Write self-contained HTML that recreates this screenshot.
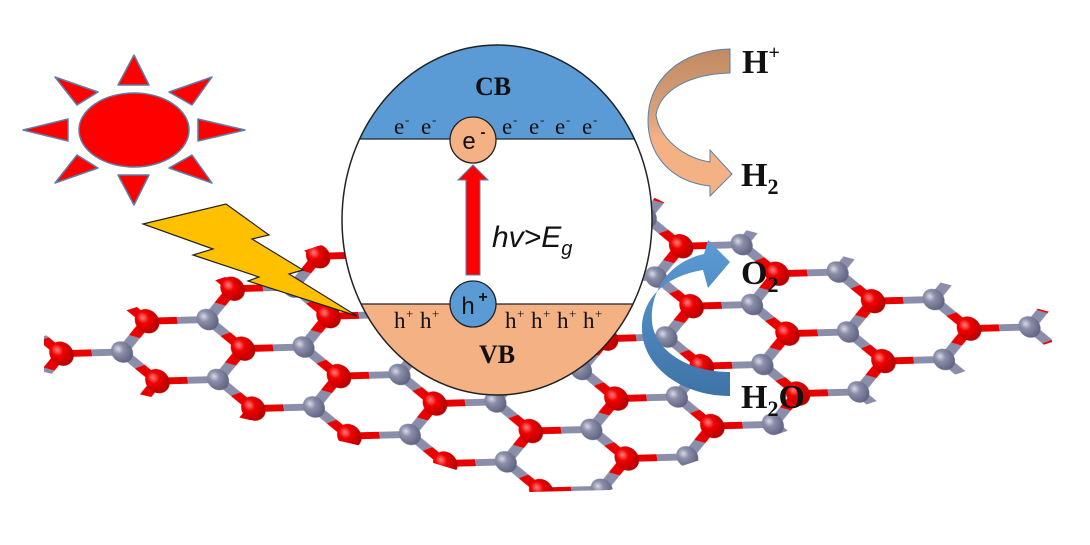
<!DOCTYPE html>
<html><head><meta charset="utf-8"><style>
html,body{margin:0;padding:0;background:#fff;}
svg{display:block;}
</style></head><body>
<svg width="1090" height="545" viewBox="0 0 1090 545" xmlns="http://www.w3.org/2000/svg">
<defs>
  <radialGradient id="gO" cx="0.35" cy="0.35" r="0.7">
    <stop offset="0" stop-color="#ff8080"/><stop offset="0.35" stop-color="#f00000"/><stop offset="1" stop-color="#b00000"/>
  </radialGradient>
  <radialGradient id="gC" cx="0.35" cy="0.35" r="0.7">
    <stop offset="0" stop-color="#d8dae8"/><stop offset="0.35" stop-color="#8a8ea8"/><stop offset="1" stop-color="#5e6280"/>
  </radialGradient>
  <g id="bonds" stroke-width="0.2" stroke-linecap="butt">
    <line x1="0" y1="0" x2="0.25" y2="0.433" stroke="#8a8eaa"/><line x1="0.25" y1="0.433" x2="0.5" y2="0.866" stroke="#e80000"/>
    <line x1="0" y1="0" x2="0.25" y2="-0.433" stroke="#8a8eaa"/><line x1="0.25" y1="-0.433" x2="0.5" y2="-0.866" stroke="#e80000"/>
    <line x1="0.5" y1="0.866" x2="1" y2="0.866" stroke="#e80000"/><line x1="1" y1="0.866" x2="1.5" y2="0.866" stroke="#8a8eaa"/>
    <line x1="1.5" y1="0.866" x2="1.75" y2="0.433" stroke="#8a8eaa"/><line x1="1.75" y1="0.433" x2="2" y2="0" stroke="#e80000"/>
    <line x1="1.5" y1="0.866" x2="1.75" y2="1.299" stroke="#8a8eaa"/><line x1="1.75" y1="1.299" x2="2" y2="1.732" stroke="#e80000"/>
    <line x1="2" y1="0" x2="2.5" y2="0" stroke="#e80000"/><line x1="2.5" y1="0" x2="3" y2="0" stroke="#8a8eaa"/>
  </g>
  <g id="atoms">
    <ellipse cx="0" cy="0" rx="0.18" ry="0.31" fill="url(#gC)"/>
    <ellipse cx="1.5" cy="0.866" rx="0.18" ry="0.31" fill="url(#gC)"/>
    <ellipse cx="0.5" cy="0.866" rx="0.2" ry="0.35" fill="url(#gO)"/>
    <ellipse cx="2" cy="0" rx="0.2" ry="0.35" fill="url(#gO)"/>
  </g>
  <pattern id="lat" patternUnits="userSpaceOnUse" width="3" height="1.732" patternTransform="matrix(60.5,-1.67,6,34.6,122,352)">
    <use href="#bonds" transform="translate(-3,-1.732)"/><use href="#bonds" transform="translate(0,-1.732)"/><use href="#bonds" transform="translate(3,-1.732)"/>
    <use href="#bonds" transform="translate(-3,0)"/><use href="#bonds"/><use href="#bonds" transform="translate(3,0)"/>
    <use href="#bonds" transform="translate(-3,1.732)"/><use href="#bonds" transform="translate(0,1.732)"/><use href="#bonds" transform="translate(3,1.732)"/>
    <use href="#atoms" transform="translate(-3,-1.732)"/><use href="#atoms" transform="translate(0,-1.732)"/><use href="#atoms" transform="translate(3,-1.732)"/>
    <use href="#atoms" transform="translate(-3,0)"/><use href="#atoms"/><use href="#atoms" transform="translate(3,0)"/>
    <use href="#atoms" transform="translate(-3,1.732)"/><use href="#atoms" transform="translate(0,1.732)"/><use href="#atoms" transform="translate(3,1.732)"/>
  </pattern>
  <clipPath id="sheet">
    <polygon points="44,336 140,306 228,276 318,246 420,220 655,198 690,215 1050,312 1052,342 880,400 610,490 530,492 430,462 44,372"/>
  </clipPath>
  <clipPath id="circ"><ellipse cx="497" cy="220" rx="155" ry="175"/></clipPath>
  <linearGradient id="gH" x1="0" y1="0" x2="0" y2="1">
    <stop offset="0" stop-color="#c08a63"/><stop offset="0.45" stop-color="#d9a27a"/><stop offset="0.6" stop-color="#f4b183"/><stop offset="1" stop-color="#f4b183"/>
  </linearGradient>
  <linearGradient id="gB" x1="0" y1="0" x2="0" y2="1">
    <stop offset="0" stop-color="#5b9bd5"/><stop offset="1" stop-color="#3f73a6"/>
  </linearGradient>
</defs>

<rect x="0" y="0" width="1090" height="545" fill="url(#lat)" clip-path="url(#sheet)"/>

<g fill="#ff0000" stroke="#5a7fa8" stroke-width="1.5" stroke-linejoin="round">
  <polygon points="134,55 118,85 149,85"/>
  <polygon points="118,175 149,175 134,205"/>
  <polygon points="23,130 68,119 68,141"/>
  <polygon points="198,119 198,141 245,130"/>
  <polygon points="55,77 98,92 77,105"/>
  <polygon points="212,77 169,92 192,105"/>
  <polygon points="55,183 77,155 98,168"/>
  <polygon points="212,183 192,155 169,168"/>
  <ellipse cx="134" cy="130" rx="55" ry="37"/>
</g>

<polygon points="143,224 226,204 269,235 252,239 303,270 289,274 357,316 248,281 259,277 193,255 213,249" fill="#ffc000" stroke="#222" stroke-width="1.2" stroke-linejoin="miter"/>

<g clip-path="url(#circ)">
  <rect x="340" y="40" width="320" height="99" fill="#5b9bd5"/>
  <rect x="340" y="139" width="320" height="165" fill="#fff"/>
  <rect x="340" y="304" width="320" height="100" fill="#f4b183"/>
  <line x1="340" y1="139" x2="660" y2="139" stroke="#222" stroke-width="1.3"/>
  <line x1="340" y1="304" x2="660" y2="304" stroke="#222" stroke-width="1.3"/>
</g>
<ellipse cx="497" cy="220" rx="155" ry="175" fill="none" stroke="#222" stroke-width="1.5"/>

<g font-family="Liberation Serif, serif" fill="#111">
  <text x="493" y="95" font-size="26" font-weight="bold" text-anchor="middle">CB</text>
  <text x="497" y="363" font-size="26" font-weight="bold" text-anchor="middle">VB</text>
  <g font-size="23">
    <text x="394" y="134">e</text><text x="405" y="124" font-size="13">-</text>
    <text x="421" y="134">e</text><text x="432" y="124" font-size="13">-</text>
    <text x="502" y="134">e</text><text x="513" y="124" font-size="13">-</text>
    <text x="529" y="134">e</text><text x="540" y="124" font-size="13">-</text>
    <text x="555" y="134">e</text><text x="566" y="124" font-size="13">-</text>
    <text x="582" y="134">e</text><text x="593" y="124" font-size="13">-</text>
  </g>
  <g font-size="23">
    <text x="394" y="328">h</text><text x="406" y="318" font-size="13">+</text>
    <text x="420" y="328">h</text><text x="432" y="318" font-size="13">+</text>
    <text x="505" y="328">h</text><text x="517" y="318" font-size="13">+</text>
    <text x="531" y="328">h</text><text x="543" y="318" font-size="13">+</text>
    <text x="557" y="328">h</text><text x="569" y="318" font-size="13">+</text>
    <text x="583" y="328">h</text><text x="595" y="318" font-size="13">+</text>
  </g>
</g>

<circle cx="473" cy="140" r="23" fill="#f4b183" stroke="#222" stroke-width="1.3"/>
<text x="469" y="149" font-family="Liberation Sans, sans-serif" font-size="24" text-anchor="middle" fill="#111">e</text>
<text x="483" y="137" font-family="Liberation Sans, sans-serif" font-size="15" font-weight="bold" text-anchor="middle" fill="#111">-</text>
<circle cx="473" cy="304" r="23" fill="#5b9bd5" stroke="#222" stroke-width="1.3"/>
<text x="468" y="314" font-family="Liberation Sans, sans-serif" font-size="24" text-anchor="middle" fill="#111">h</text>
<text x="483" y="302" font-family="Liberation Sans, sans-serif" font-size="16" font-weight="bold" text-anchor="middle" fill="#111">+</text>

<polygon points="466,275 480,275 480,180 488,180 473,165 458,180 466,180" fill="#ff0000" stroke="#5a7fa8" stroke-width="1"/>
<text x="492" y="247" font-family="Liberation Sans, sans-serif" font-size="30" font-style="italic" fill="#111">hv&gt;E<tspan font-size="20" dy="8">g</tspan></text>

<path d="M730,49 L730,73 C690,74 660,90 656,115 C660,140 685,158 710,162 L710,150 L732,174 L710,196 L710,186 C672,182 648,156 648,120 C648,80 680,50 730,49 Z" fill="url(#gH)" stroke="#5a7fa8" stroke-width="1"/>

<path d="M730,396 C680,396 640,365 642,325 C645,292 672,275 703,270 L708,288 L730,262 L708,240 L704,254 C668,262 650,292 652,322 C655,352 690,372 730,372 Z" fill="url(#gB)"/>

<g font-family="Liberation Serif, serif" font-weight="bold" fill="#111" font-size="34">
  <text x="742" y="73">H<tspan font-size="20" dy="-14">+</tspan></text>
  <text x="741" y="186">H<tspan font-size="22" dy="8">2</tspan></text>
  <text x="741" y="284">O<tspan font-size="22" dy="8">2</tspan></text>
  <text x="741" y="408">H<tspan font-size="22" dy="8">2</tspan><tspan dy="-8">O</tspan></text>
</g>
</svg>
</body></html>
